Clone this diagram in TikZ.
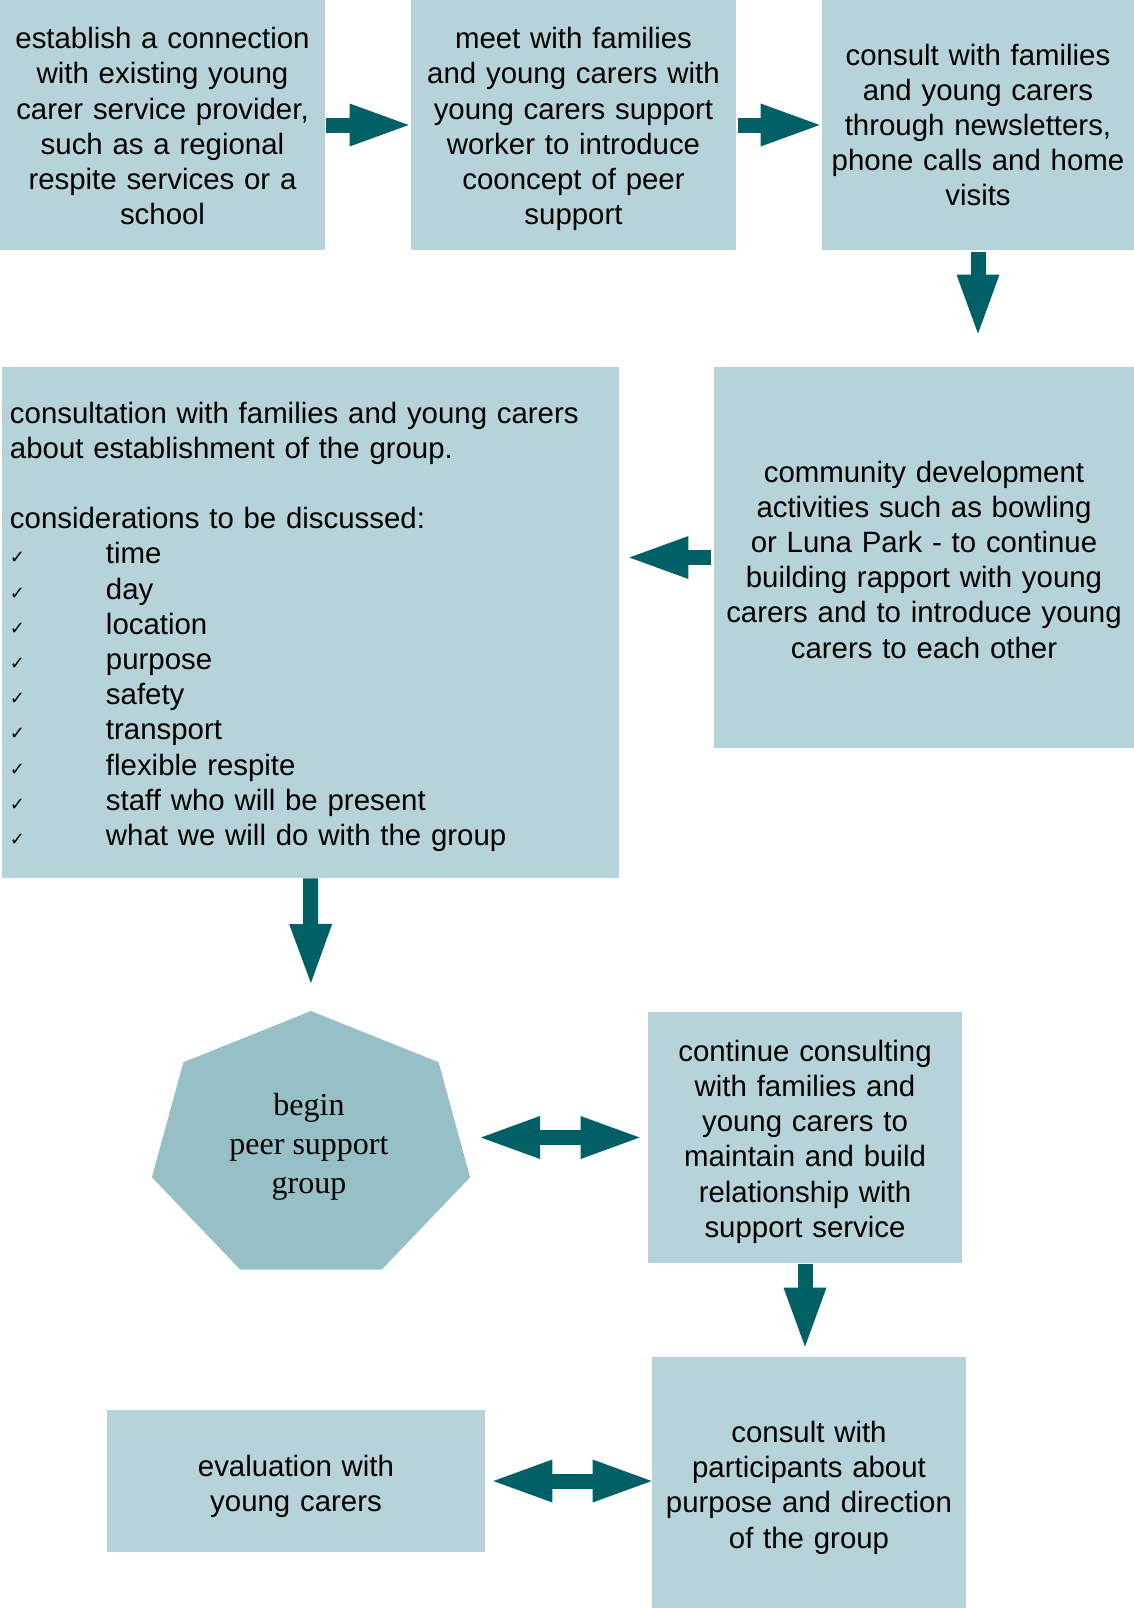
\documentclass[tikz,border=0pt]{standalone}
\usepackage{fontspec}
\setmainfont{Liberation Sans}
\newfontfamily\hepfont{Liberation Serif}
\newfontfamily\tickfont{DejaVu Sans}
\usetikzlibrary{arrows.meta}

\definecolor{boxfill}{HTML}{B5D3D8}
\definecolor{hepfill}{HTML}{96C0C6}
\definecolor{arrowfill}{HTML}{006066}

\tikzstyle{box}=[%
	fill=boxfill, inner sep=0pt, align=center,
	font=\fontsize{14.7pt}{17.6pt}\selectfont
]
\tikzstyle{blockarrow}=[%
	draw=arrowfill, line width=7.5pt,
	-{Triangle[length=29.5pt, width=21.5pt, line width=0pt]}
]
\tikzstyle{twoway}=[%
	draw=arrowfill, line width=7.5pt,
	{Triangle[length=29.5pt, width=21.5pt, line width=0pt]}-{Triangle[length=29.5pt, width=21.5pt, line width=0pt]}
]

\newcommand{\tickmark}{\makebox[48pt][l]{\tickfont\fontsize{9pt}{9pt}\selectfont ✓}}
% strut on the first line, pushes the text a little down
\newcommand{\dropline}[1]{\rule{0pt}{#1}}

\begin{document}
\begin{tikzpicture}[x=0.5pt, y=-0.5pt]
	\useasboundingbox (0,0) rectangle (1134,1608);

	% top row
	\node[box, minimum width=162.5pt, minimum height=125pt, text width=162.5pt] (connect) at (162.5,125)
		{\dropline{11.8pt}establish a connection\\ with existing young\\ carer service provider,\\ such as a regional\\ respite services or a\\ school};
	\node[box, minimum width=162.5pt, minimum height=125pt, text width=162.5pt] (meet) at (573.5,125)
		{\dropline{14.8pt}meet with families\\ and young carers with\\ young carers support\\ worker to introduce\\ cooncept of peer\\ support};
	\node[box, minimum width=156pt, minimum height=125pt, text width=156pt] (contact) at (978,125)
		{consult with families\\ and young carers\\ through newsletters,\\ phone calls and home\\ visits};

	% middle row
	\node[box, minimum width=210pt, minimum height=190.5pt, text width=210pt] (outing) at (924,557.5)
		{\dropline{12.8pt}community development\\ activities such as bowling\\ or Luna Park - to continue\\ building rapport with young\\ carers and to introduce young\\ carers to each other};
	\node[box, align=left, inner xsep=4pt, minimum width=308.5pt, minimum height=255.5pt, text width=300.5pt] (plan) at (310.5,622.5)
		{\dropline{14.8pt}consultation with families and young carers\\
		about establishment of the group.\\
		~\\
		considerations to be discussed:\\
		\tickmark time\\
		\tickmark day\\
		\tickmark location\\
		\tickmark purpose\\
		\tickmark safety\\
		\tickmark transport\\
		\tickmark flexible respite\\
		\tickmark staff who will be present\\
		\tickmark what we will do with the group};

	% peer support group
	\fill[hepfill, shift={(311,1147)}, xscale=1.2] (-90:136)
		\foreach \k in {1,...,6} { -- (-90+\k*360/7:136) } -- cycle;
	\coordinate (htop) at (311,1011);
	\coordinate (hright) at (470,1177);
	\node[align=center, inner sep=0pt, font=\hepfont\fontsize{16pt}{19.4pt}\selectfont] (peer) at (309,1147)
		{begin\\ peer support\\ group};

	% lower boxes
	\node[box, minimum width=157pt, minimum height=125.5pt, text width=157pt] (ongoing) at (805,1137.5)
		{\dropline{14.8pt}continue consulting\\ with families and\\ young carers to\\ maintain and build\\ relationship with\\ support service};
	\node[box, minimum width=157pt, minimum height=125.5pt, text width=157pt] (review) at (809,1482.5)
		{\dropline{15.8pt}consult with\\ participants about\\ purpose and direction\\ of the group};
	\node[box, minimum width=189pt, minimum height=71pt, text width=189pt] (evaluate) at (296,1481)
		{\dropline{15.8pt}evaluation with\\ young carers};

	% arrows
	\draw[blockarrow, shorten <=0.5pt, shorten >=1pt] (connect.east) -- (meet.west);
	\draw[blockarrow, shorten <=1pt, shorten >=1pt] (meet.east) -- (contact.west);
	\draw[blockarrow, shorten <=1pt, shorten >=16.5pt] (contact.south) -- (contact.south |- outing.north);
	\draw[blockarrow, shorten <=1.5pt, shorten >=5pt] (outing.west) -- (outing.west -| plan.east);
	\draw[blockarrow, shorten <=0pt, shorten >=14pt] (plan.south) -- (htop);
	\draw[twoway, shorten <=4pt, shorten >=5.5pt] (ongoing.west) -- (ongoing.west -| hright);
	\draw[blockarrow, shorten <=0.5pt, shorten >=5pt] (ongoing.south) -- (ongoing.south |- review.north);
	\draw[twoway, shorten <=4pt, shorten >=0pt] (evaluate.east) -- (evaluate.east -| review.west);
\end{tikzpicture}
\end{document}
